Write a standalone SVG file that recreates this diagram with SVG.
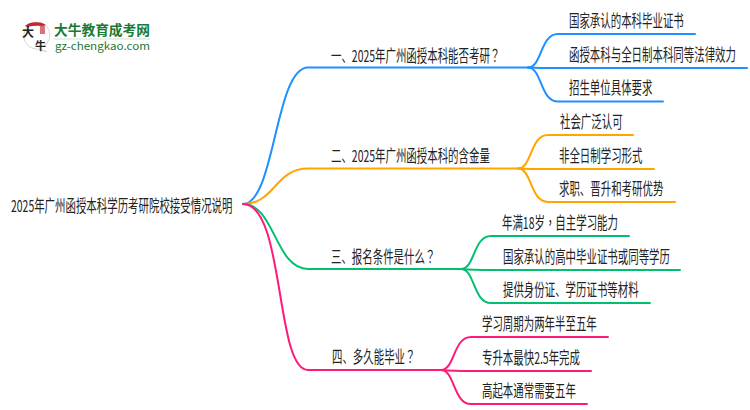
<svg xmlns="http://www.w3.org/2000/svg" width="750" height="410" viewBox="0 0 750 410">
<style>
text{font-family:"Noto Sans CJK SC","Liberation Sans",sans-serif;font-size:16.500px;fill:#222;transform:scale(.633,1)}
tspan{font-family:"Noto Sans CJK TC","Liberation Sans",sans-serif}
.c path{fill:none;stroke-width:2;stroke-linecap:round}
.b path{stroke:#1e90ff}.o path{stroke:#ffa500}.g path{stroke:#00c070}.p path{stroke:#ff1a7a}
#logo text{transform:none}
#logo .t{font-size:13.500px;font-weight:700;fill:#1a7a35}
#logo .u{font-size:10.500px;fill:#1a7a35}
#logo .m{font-weight:700;fill:#222}
</style>
<rect width="750" height="410" fill="#fff"/>
<g id="connectors" class="c">
<g class="b"><path d="M243 204C275 204 275 67.500 308 67.500H528"/><path d="M528 67.500C542 67.500 540 34 558 34H695"/><path d="M528 67.500C540 68 545 68 558 68H747"/><path d="M528 67.500C542 67.500 540 101.500 558 101.500H663"/></g>
<g class="o"><path d="M243 204C275 204 275 168.500 308 168.500H518"/><path d="M518 168.500C532 168.500 530 135 548 135H633"/><path d="M518 168.500C530 169 535 169 548 169H654"/><path d="M518 168.500C532 168.500 530 202 548 202H675"/></g>
<g class="g"><path d="M243 204C275 204 275 269 308 269H461"/><path d="M461 269C475 269 473 236 491 236H629"/><path d="M461 269C473 270 478 270 491 270H680"/><path d="M461 269C475 269 473 303 491 303H650"/></g>
<g class="p"><path d="M243 204C285 204 275 370 308 370H441"/><path d="M441 370C455 370 453 337 471 337H608"/><path d="M441 370C453 371 458 371 471 371H591"/><path d="M441 370C455 370 453 404 471 404H587"/></g>
</g>
<g id="logo">
<path d="M24 34a13 13 0 1 1 15 14l8 4-10-3a13 13 0 0 1-13-15z" fill="#fff" stroke="#d8d8d8"/>
<path d="M25 26a13 8 0 0 1 21-1l-3 1a17 6 0 0 0-16 1z" fill="#c8262c"/>
<rect x="40" y="26" width="5" height="8" fill="#d9737a"/>
<text class="m" x="22" y="37" style="font-size:12px">大</text>
<text class="m" x="35" y="50" style="font-size:11px">牛</text>
<text class="t" x="54" y="35" textLength="96" lengthAdjust="spacingAndGlyphs">大牛教育成考网</text>
<path d="M54 39H150" stroke="#cfe3d4"/>
<text class="u" x="55" y="50" textLength="95" lengthAdjust="spacingAndGlyphs">gz-chengkao.com</text>
</g>
<g id="root" transform="translate(11 212)"><text>2025年广州函授本科学历考研院校接受情况说明</text></g>
<g id="n1" transform="translate(331 62)"><text>一、2025年广州函授本科能否考研<tspan>？</tspan></text></g>
<g id="n1a" transform="translate(569 27)"><text>国家承认的本科毕业证书</text></g>
<g id="n1b" transform="translate(569 61)"><text>函授本科与全日制本科同等法律效力</text></g>
<g id="n1c" transform="translate(569 94)"><text>招生单位具体要求</text></g>
<g id="n2" transform="translate(331 162)"><text>二、2025年广州函授本科的含金量</text></g>
<g id="n2a" transform="translate(560 128)"><text>社会广泛认可</text></g>
<g id="n2b" transform="translate(559 162)"><text>非全日制学习形式</text></g>
<g id="n2c" transform="translate(559 195)"><text>求职、晋升和考研优势</text></g>
<g id="n3" transform="translate(331 263)"><text>三、报名条件是什么<tspan>？</tspan></text></g>
<g id="n3a" transform="translate(502 229)"><text>年满18岁<tspan>，</tspan>自主学习能力</text></g>
<g id="n3b" transform="translate(503 263)"><text>国家承认的高中毕业证书或同等学历</text></g>
<g id="n3c" transform="translate(503 296)"><text>提供身份证、学历证书等材料</text></g>
<g id="n4" transform="translate(332 363)"><text>四、多久能毕业<tspan>？</tspan></text></g>
<g id="n4a" transform="translate(482 330)"><text>学习周期为两年半至五年</text></g>
<g id="n4b" transform="translate(482 364)"><text>专升本最快2.5年完成</text></g>
<g id="n4c" transform="translate(482 397)"><text>高起本通常需要五年</text></g>
</svg>
